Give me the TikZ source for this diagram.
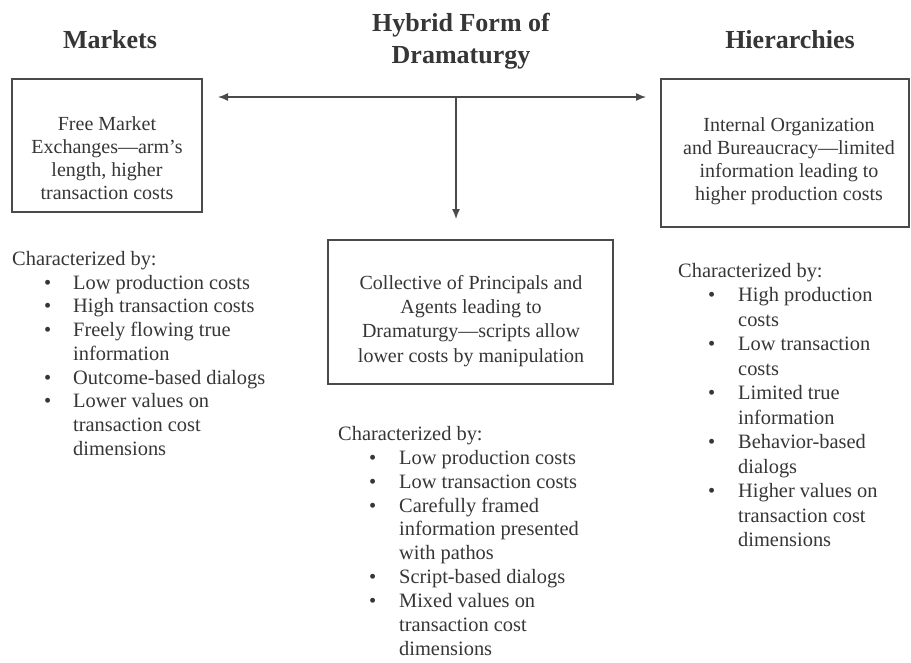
\documentclass[tikz,border=0pt]{standalone}
\usepackage{fontspec}
\setmainfont{Liberation Serif}
\usetikzlibrary{arrows.meta}
\definecolor{ink}{HTML}{363636}
\definecolor{rule}{HTML}{4A4A4A}
\newcommand{\itm}[2]{\hspace*{#1pt}\makebox[#2pt][l]{\textbullet}}
\newcommand{\cnt}[1]{\hspace*{#1pt}}
\tikzset{
  title/.style={font=\fontsize{26}{32}\selectfont\bfseries, text=ink, align=center, inner sep=0pt},
  boxtext/.style={font=\fontsize{20}{23.3}\selectfont, text=ink, align=center, inner sep=0pt},
  frame/.style={draw=rule, line width=1.3pt, inner sep=0pt},
  listtext/.style={text=ink, align=left, inner sep=0pt, anchor=north west},
  arr/.style={draw=rule, line width=1.4pt, -{Latex[length=10pt,width=8pt]}}
}
\begin{document}
\begin{tikzpicture}[x=1pt,y=-1pt]
\useasboundingbox[fill=white] (0,0) rectangle (911,662);

% titles
\node[title, anchor=base] (tmarkets) at (110,48) {Markets};
\node[title, anchor=north] (thybrid) at (461,13) {Hybrid Form of\\Dramaturgy};
\node[title, anchor=base] (thier) at (790,48) {Hierarchies};

% boxes
\node[frame, minimum width=190pt, minimum height=133pt] (bleft) at (107,145.5) {};
\node[boxtext, anchor=north] (tleft) at (107,116) {Free Market\\Exchanges—arm’s\\length, higher\\transaction costs};

\node[frame, minimum width=248pt, minimum height=148pt] (bright) at (785,153) {};
\node[boxtext, anchor=north] (tright) at (789,117) {Internal Organization\\and Bureaucracy—limited\\information leading to\\higher production costs};

\node[frame, minimum width=285pt, minimum height=144pt] (bmid) at (470.5,312) {};
\node[boxtext, anchor=north, font=\fontsize{20}{24.3}\selectfont] (tmid) at (471,275) {Collective of Principals and\\Agents leading to\\Dramaturgy—scripts allow\\lower costs by manipulation};

% arrows
\coordinate (junc) at (456,97);
\coordinate (ltip) at (218,97);
\coordinate (rtip) at (646,97);
\coordinate (dtip) at (456,219);
\draw[arr] (junc) -- (ltip);
\draw[arr] (junc) -- (rtip);
\draw[arr] (junc) -- (dtip);

% lists
\node[listtext, font=\fontsize{20.4}{23.75}\selectfont] (lleft) at (12,251) {Characterized by:\\
\itm{32}{29}Low production costs\\
\itm{32}{29}High transaction costs\\
\itm{32}{29}Freely flowing true\\
\cnt{61}information\\
\itm{32}{29}Outcome-based dialogs\\
\itm{32}{29}Lower values on\\
\cnt{61}transaction cost\\
\cnt{61}dimensions};

\node[listtext, font=\fontsize{20.4}{23.9}\selectfont] (lmid) at (338,426) {Characterized by:\\
\itm{31}{30}Low production costs\\
\itm{31}{30}Low transaction costs\\
\itm{31}{30}Carefully framed\\
\cnt{61}information presented\\
\cnt{61}with pathos\\
\itm{31}{30}Script-based dialogs\\
\itm{31}{30}Mixed values on\\
\cnt{61}transaction cost\\
\cnt{61}dimensions};

\node[listtext, font=\fontsize{20.4}{24.5}\selectfont] (lright) at (678,263) {Characterized by:\\
\itm{30}{30}High production\\
\cnt{60}costs\\
\itm{30}{30}Low transaction\\
\cnt{60}costs\\
\itm{30}{30}Limited true\\
\cnt{60}information\\
\itm{30}{30}Behavior-based\\
\cnt{60}dialogs\\
\itm{30}{30}Higher values on\\
\cnt{60}transaction cost\\
\cnt{60}dimensions};
\end{tikzpicture}
\end{document}
